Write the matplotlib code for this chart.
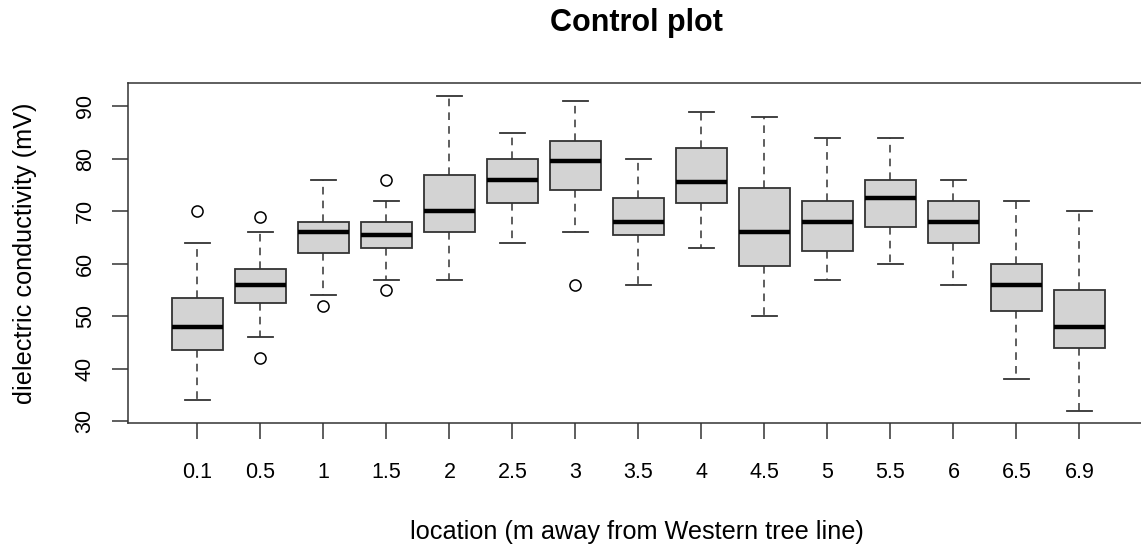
import matplotlib
matplotlib.use("Agg")
import matplotlib.pyplot as plt

# values
locations = ['0.1', '0.5', '1', '1.5', '2', '2.5', '3', '3.5', '4', '4.5',
             '5', '5.5', '6', '6.5', '6.9']
whis_lo = [34, 46, 54, 57, 57, 64, 66, 56, 63, 50, 57, 60, 56, 38, 32]
q1 = [43.5, 52.5, 62, 63, 66, 71.5, 74, 65.5, 71.5, 59.5, 62.5, 67, 64, 51, 44]
medians = [48, 56, 66, 65.5, 70, 76, 79.5, 68, 75.5, 66, 68, 72.5, 68, 56, 48]
q3 = [53.5, 59, 68, 68, 77, 80, 83.5, 72.5, 82, 74.5, 72, 76, 72, 60, 55]
whis_hi = [64, 66, 76, 72, 92, 85, 91, 80, 89, 88, 84, 84, 76, 72, 70]
outliers = [[70], [69, 42], [52], [76, 55], [], [], [56], [], [], [],
            [], [], [], [], []]
yticks = [30, 40, 50, 60, 70, 80, 90]

plt.rcParams['font.family'] = ['Liberation Sans', 'DejaVu Sans']

fig = plt.figure(figsize=(11.41, 5.47), dpi=100)
ax = fig.add_axes([0.1125, 0.2261, 0.8910, 0.6216])

stats = []
for i in range(len(locations)):
    stats.append(dict(whislo=whis_lo[i], q1=q1[i], med=medians[i], q3=q3[i],
                      whishi=whis_hi[i], fliers=outliers[i], label=locations[i]))

edge = '#333333'
ax.bxp(stats, positions=range(1, len(locations) + 1), widths=0.8,
       patch_artist=True,
       boxprops=dict(facecolor='#d3d3d3', edgecolor=edge, linewidth=1.3),
       medianprops=dict(color='black', linewidth=3.2, solid_capstyle='butt'),
       whiskerprops=dict(color=edge, linewidth=1.1, linestyle=(0, (5, 4))),
       capprops=dict(color=edge, linewidth=1.3),
       capwidths=0.4,
       flierprops=dict(marker='o', markerfacecolor='none', markeredgecolor='black',
                       markersize=8, markeredgewidth=1.1))

ax.set_xlim(-0.095, 16.04)
ax.set_ylim(29.6, 94.4)
ax.set_yticks(yticks)
ax.set_yticklabels([str(v) for v in yticks], rotation=90, va='center')

ax.tick_params(axis='both', length=11.5, width=1.1, color=edge, labelsize=15.5)
ax.tick_params(axis='x', pad=16)
ax.tick_params(axis='y', pad=12)
for s in ax.spines.values():
    s.set_linewidth(1.1)
    s.set_color(edge)

ax.set_xlabel('location (m away from Western tree line)', fontsize=18.2)
ax.set_ylabel('dielectric conductivity (mV)', fontsize=18.2)
ax.xaxis.label.set_va('center')
ax.yaxis.label.set_va('center')
ax.xaxis.set_label_coords(0.5, -0.32)
ax.yaxis.set_label_coords(-0.1015, 0.5)
fig.text(0.558, 0.958, 'Control plot', fontsize=22, fontweight='bold',
         ha='center', va='center')

fig.savefig('out.png', dpi=100)
